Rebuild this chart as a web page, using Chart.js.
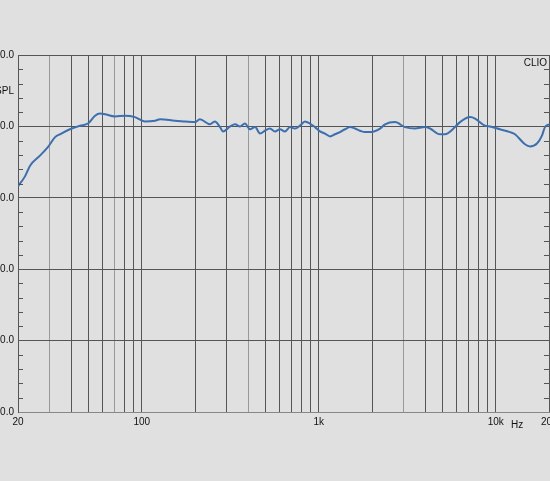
<!DOCTYPE html>
<html><head><meta charset="utf-8">
<script src="https://cdn.jsdelivr.net/npm/chart.js@4"></script>
<style>html,body{margin:0;padding:0;background:#e0e0e0;}#w{width:550px;height:481px;}</style>
</head><body><div id="w"><canvas id="c"></canvas></div>
<script>
const freqs=[20,21.9,23.4,26.6,29.5,32.4,34.5,39.3,44.8,49.7,54.5,58.1,62,70.6,80.4,91.6,104,119,127,154,176,200,213,243,259,277,288,316,337,359,383,409,437,466,497,530,566,604,644,688,734,784,836,893,953,1017,1085,1159,1236,1319,1408,1503,1604,1711,1826,1950,2220,2370,2697,3070,3497,3982,4255,4842,5166,5887,6283,7161,7640,8698,9290,10570,12050,12850,14630,15630,17100,18250,18970,20000];
const spl=[81.6,83,84.5,85.9,87.1,88.5,88.9,89.6,90.1,90.4,91.5,91.8,91.7,91.4,91.5,91.3,90.7,90.8,91,90.8,90.7,90.6,91,90.3,90.7,89.9,89.3,90,90.3,90,90.4,89.6,89.9,89,89.4,89.7,89.3,89.6,89.3,89.9,89.7,90.1,90.7,90.4,89.9,89.3,89,88.6,88.9,89.2,89.6,89.9,89.7,89.4,89.2,89.2,89.7,90.3,90.6,89.9,89.7,89.9,89.7,88.9,88.9,89.9,90.6,91.3,91.1,90.1,90,89.6,89.2,88.9,87.5,87.2,87.6,88.7,89.9,90.3];
const gridFreqs=[20,30,40,50,60,70,80,90,100,200,300,400,500,600,700,800,900,1000,2000,3000,4000,5000,6000,7000,8000,9000,10000,20000];
const lightFreqs=[30,70,400,3000];
const xLabels={20:'20',100:'100',1000:'1k',10000:'10k',20000:'20k'};
const yTicks=[50,60,70,80,90,100];
const F='"Liberation Sans", Arial, sans-serif';
const deco={id:'deco',afterDraw(ch){const c=ch.ctx,a=ch.chartArea,y=ch.scales.y;c.save();c.strokeStyle='#555';c.lineWidth=1;
for(let v=50;v<=100;v+=2){if(v%10===0)continue;const p=Math.round(y.getPixelForValue(v))+0.5;c.beginPath();c.moveTo(a.left,p);c.lineTo(a.left+5,p);c.moveTo(a.right-5,p);c.lineTo(a.right,p);c.stroke();}
c.fillStyle='#111';c.font='10px '+F;c.textAlign='right';c.textBaseline='middle';c.fillText('dB SPL',14,91);c.fillText('CLIO',547,63);c.textAlign='left';c.fillText('Hz',511,425);c.restore();}};
new Chart(document.getElementById('c'),{type:'line',
data:{datasets:[{data:freqs.map((f,i)=>({x:f,y:spl[i]})),borderColor:'#3a6fb0',borderWidth:2,pointRadius:0,tension:0.4,cubicInterpolationMode:'monotone'}]},
options:{responsive:true,maintainAspectRatio:false,animation:false,
layout:{padding:{top:55,right:1,left:0,bottom:0}},
plugins:{legend:{display:false},tooltip:{enabled:false}},
scales:{
x:{type:'logarithmic',min:20,max:20000,
afterBuildTicks(s){s.ticks=gridFreqs.map(v=>({value:v}));},
afterFit(s){s.height=69;s.paddingLeft=0;s.paddingRight=0;},
ticks:{autoSkip:false,maxRotation:0,padding:4,color:'#111',font:{family:F,size:10},callback:v=>xLabels[v]||''},
grid:{drawTicks:false,color:c=>lightFreqs.includes(c.tick&&c.tick.value)?'#999':'#555'},border:{color:'#888'}},
y:{min:50,max:100,
afterBuildTicks(s){s.ticks=yTicks.map(v=>({value:v}));},
afterFit(s){s.width=18;},
ticks:{padding:4,color:'#111',font:{family:F,size:10},callback:v=>v.toFixed(1)},
grid:{drawTicks:false,color:'#555'},border:{color:'#555'}}}},
plugins:[deco]});
</script></body></html>
